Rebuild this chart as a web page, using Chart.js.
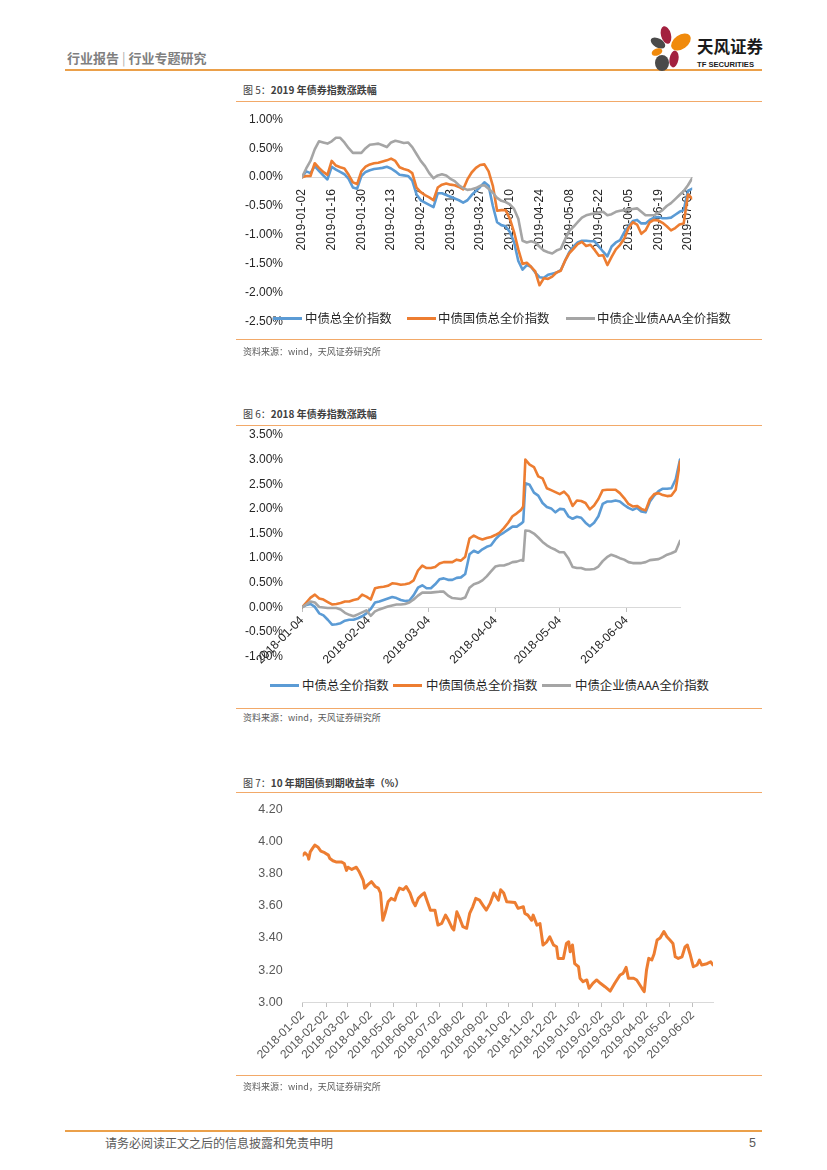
<!DOCTYPE html>
<html><head><meta charset="utf-8">
<script src="https://cdn.jsdelivr.net/npm/chart.js@4.4.1/dist/chart.umd.min.js"></script>
<style>
html,body{margin:0;padding:0;background:#fff;}
body{width:827px;height:1170px;position:relative;overflow:hidden;font-family:"Noto Sans CJK SC","Liberation Sans",sans-serif;}
.abs{position:absolute;white-space:nowrap;}
.oline{position:absolute;left:236px;width:526px;height:1px;background:#F2A969;}
canvas{position:absolute;}
.title{position:absolute;left:243px;font-size:10px;font-weight:bold;color:#404040;line-height:12px;white-space:nowrap;}
.title span{font-weight:normal;}
.src{position:absolute;left:243px;font-size:9px;color:#595959;line-height:10px;white-space:nowrap;}
.lg{position:absolute;height:3px;width:29px;}
.lt{position:absolute;font-size:12.4px;line-height:16px;color:#262626;white-space:nowrap;}
</style></head>
<body>
<!-- header -->
<div class="abs" style="left:67px;top:49px;font-size:13px;color:#7f7f7f;font-weight:bold;line-height:18px;">行业报告<span style="font-weight:normal;color:#aaa;margin:0 3px;">|</span>行业专题研究</div>
<div class="abs" style="left:65px;top:69px;width:697px;height:2px;background:#EBA04A;"></div>
<svg class="abs" style="left:640px;top:22px;" width="125" height="52" viewBox="0 0 125 52">
  <ellipse cx="26" cy="13" rx="5" ry="9" fill="#A3213F" transform="rotate(-15 26 13)"/>
  <ellipse cx="41" cy="20" rx="11" ry="7" fill="#F08A0C" transform="rotate(-35 41 20)"/>
  <ellipse cx="18" cy="21" rx="8" ry="4.5" fill="#4A4A4A" transform="rotate(30 18 21)"/>
  <ellipse cx="17" cy="30" rx="5.5" ry="3.5" fill="#F08A0C" transform="rotate(-20 17 30)"/>
  <ellipse cx="22" cy="41" rx="7" ry="8" fill="#4A4A4A"/>
  <ellipse cx="34" cy="37" rx="4.5" ry="8.5" fill="#A3213F" transform="rotate(10 34 37)"/>
  <text x="57" y="31" font-family="Noto Sans CJK SC" font-weight="bold" font-size="16.5" fill="#1a1a1a">天风证券</text>
  <text x="57" y="45" font-family="Liberation Sans" font-weight="bold" font-size="7.6" fill="#1a1a1a">TF SECURITIES</text>
</svg>

<!-- chart 5 frame -->
<div class="title" style="top:84px;"><span>图 5：</span>2019 年债券指数涨跌幅</div>
<div class="oline" style="top:101px;"></div>
<canvas id="c5" width="500" height="222" style="left:237px;top:108px;"></canvas>
<div class="lg" style="left:273px;top:317px;background:#5B9BD5;"></div><div class="lt" style="left:305px;top:310px;">中债总全价指数</div>
<div class="lg" style="left:407px;top:317px;background:#ED7D31;"></div><div class="lt" style="left:438px;top:310px;">中债国债总全价指数</div>
<div class="lg" style="left:566px;top:317px;background:#A5A5A5;"></div><div class="lt" style="left:597px;top:310px;">中债企业债AAA全价指数</div>
<div class="oline" style="top:339px;"></div>
<div class="src" style="top:347px;">资料来源：wind，天风证券研究所</div>

<!-- chart 6 frame -->
<div class="title" style="top:408px;"><span>图 6：</span>2018 年债券指数涨跌幅</div>
<div class="oline" style="top:425px;"></div>
<canvas id="c6" width="500" height="250" style="left:237px;top:420px;"></canvas>
<div class="lg" style="left:270px;top:684px;background:#5B9BD5;"></div><div class="lt" style="left:302px;top:677px;">中债总全价指数</div>
<div class="lg" style="left:393px;top:684px;background:#ED7D31;"></div><div class="lt" style="left:426px;top:677px;">中债国债总全价指数</div>
<div class="lg" style="left:542px;top:684px;background:#A5A5A5;"></div><div class="lt" style="left:575px;top:677px;">中债企业债AAA全价指数</div>
<div class="oline" style="top:708px;"></div>
<div class="src" style="top:713px;">资料来源：wind，天风证券研究所</div>

<!-- chart 7 frame -->
<div class="title" style="top:777px;"><span>图 7：</span>10 年期国债到期收益率（%）</div>
<div class="oline" style="top:792px;"></div>
<canvas id="c7" width="500" height="280" style="left:237px;top:800px;"></canvas>
<div class="oline" style="top:1075px;"></div>
<div class="src" style="top:1082px;">资料来源：wind，天风证券研究所</div>

<!-- footer -->
<div class="abs" style="left:65px;top:1130px;width:697px;height:2px;background:#EBA04A;"></div>
<div class="abs" style="left:105px;top:1135px;font-size:12px;color:#595959;line-height:16px;">请务必阅读正文之后的信息披露和免责申明</div>
<div class="abs" style="left:749px;top:1135px;font-size:12.5px;color:#595959;line-height:16px;font-family:'Liberation Sans';">5</div>

<script>
// ---------- Chart 5: 2019 bond index change (%) ----------
const days2019 = ['01-02','01-04','01-06','01-08','01-10','01-12','01-14','01-16','01-18','01-20','01-22','01-24','01-26','01-28','01-30',
 '02-01','02-03','02-05','02-07','02-09','02-11','02-13','02-15','02-17','02-19','02-21','02-23','02-25','02-27',
 '03-01','03-03','03-05','03-07','03-09','03-11','03-13','03-15','03-17','03-19','03-21','03-23','03-25','03-27','03-29','03-31',
 '04-02','04-04','04-06','04-08','04-10','04-12','04-14','04-16','04-18','04-20','04-22','04-24','04-26','04-28','04-30',
 '05-02','05-04','05-06','05-08','05-10','05-12','05-14','05-16','05-18','05-20','05-22','05-24','05-26','05-28','05-30',
 '06-01','06-03','06-05','06-07','06-09','06-11','06-13','06-15','06-17','06-19','06-21','06-23','06-25','06-27','06-29',
 '07-01','07-03','07-05'];
const total2019 = [0,0.10,0.07,0.19,0.11,0.03,-0.04,0.18,0.13,0.09,
 0.05,-0.03,-0.18,-0.20,0.02,0.09,0.12,0.14,0.15,0.16,
 0.18,0.15,0.10,0.04,0.03,0.02,-0.06,-0.30,-0.40,-0.44,
 -0.48,-0.52,-0.28,-0.28,-0.31,-0.34,-0.37,-0.40,-0.44,-0.40,
 -0.31,-0.24,-0.17,-0.09,-0.15,-0.50,-0.78,-0.83,-0.85,-0.95,
 -1.12,-1.45,-1.60,-1.52,-1.55,-1.65,-1.73,-1.74,-1.69,-1.67,
 -1.65,-1.61,-1.45,-1.30,-1.20,-1.13,-1.10,-1.10,-1.11,-1.11,
 -1.20,-1.29,-1.37,-1.20,-1.13,-1.09,-0.95,-0.85,-0.76,-0.74,
 -0.80,-0.80,-0.74,-0.70,-0.69,-0.71,-0.71,-0.70,-0.65,-0.60,
 -0.57,-0.24,-0.20];
const gov2019 = [0,0.02,0.02,0.24,0.16,0.09,0.04,0.28,0.20,0.17,
 0.15,0.04,-0.09,-0.12,0.10,0.18,0.22,0.24,0.25,0.27,
 0.29,0.32,0.28,0.17,0.14,0.12,0.07,-0.18,-0.26,-0.31,
 -0.35,-0.40,-0.18,-0.13,-0.11,-0.13,-0.14,-0.17,-0.21,-0.04,
 0.08,0.16,0.21,0.22,0.10,-0.15,-0.58,-0.57,-0.57,-0.72,
 -0.95,-1.25,-1.50,-1.48,-1.55,-1.63,-1.87,-1.75,-1.76,-1.72,
 -1.65,-1.62,-1.45,-1.32,-1.24,-1.16,-1.12,-1.19,-1.17,-1.26,
 -1.36,-1.35,-1.52,-1.38,-1.25,-1.17,-1.06,-0.88,-0.78,-0.82,
 -0.98,-0.92,-0.78,-0.74,-0.75,-0.79,-0.85,-0.92,-0.88,-0.82,
 -0.80,-0.30,-0.37];
const aaa2019 = [0,0.15,0.28,0.48,0.62,0.60,0.58,0.62,0.68,0.68,
 0.60,0.50,0.42,0.42,0.42,0.50,0.56,0.57,0.58,0.55,
 0.52,0.60,0.63,0.61,0.59,0.60,0.52,0.40,0.28,0.19,
 0.07,-0.02,0.03,0.05,0.03,-0.03,-0.07,-0.14,-0.19,-0.22,
 -0.21,-0.19,-0.15,-0.14,-0.20,-0.27,-0.36,-0.41,-0.43,-0.47,
 -0.55,-0.72,-1.10,-1.13,-1.11,-1.13,-1.20,-1.27,-1.30,-1.32,
 -1.27,-1.24,-1.08,-0.93,-0.86,-0.78,-0.70,-0.66,-0.64,-0.63,
 -0.61,-0.60,-0.66,-0.64,-0.60,-0.58,-0.57,-0.56,-0.55,-0.54,
 -0.60,-0.66,-0.66,-0.66,-0.62,-0.57,-0.50,-0.45,-0.38,-0.31,
 -0.24,-0.14,-0.02];
const ticks2019 = ['01-02','01-16','01-30','02-13','02-27','03-13','03-27','04-10','04-24','05-08','05-22','06-05','06-19','07-03'];

// ---------- Chart 6: 2018 bond index change (%) ----------
const days2018 = ['01-04','01-06','01-08','01-10','01-12','01-14','01-16','01-18','01-20','01-22','01-24','01-26','01-28','01-30',
 '02-01','02-03','02-05','02-07','02-09','02-11','02-13','02-15','02-17','02-19','02-21','02-23','02-25','02-27',
 '03-01','03-03','03-05','03-07','03-09','03-11','03-13','03-15','03-17','03-19','03-21','03-23','03-25','03-27','03-29','03-31',
 '04-02','04-04','04-06','04-08','04-10','04-12','04-14','04-16','04-17','04-18','04-20','04-22','04-24','04-26','04-28','04-30',
 '05-02','05-04','05-06','05-08','05-10','05-12','05-14','05-16','05-18','05-20','05-22','05-24','05-26','05-28','05-30',
 '06-01','06-03','06-05','06-07','06-09','06-11','06-13','06-15','06-17','06-19','06-21','06-23','06-25','06-27','06-29'];
const total2018 = [0,0.05,0.07,0.01,-0.12,-0.16,-0.25,-0.35,-0.34,-0.32,
 -0.27,-0.25,-0.25,-0.22,-0.18,-0.12,-0.03,0.10,0.12,0.15,
 0.18,0.21,0.19,0.15,0.13,0.14,0.25,0.40,0.45,0.39,
 0.39,0.47,0.57,0.59,0.56,0.56,0.60,0.61,0.68,1.08,
 1.15,1.11,1.18,1.23,1.26,1.38,1.47,1.52,1.58,1.64,
 1.64,1.70,1.74,
 2.52,2.49,2.33,2.27,2.12,2.04,2.01,1.93,2.00,1.99,
 1.85,1.80,1.84,1.82,1.72,1.65,1.72,1.85,2.10,2.15,
 2.15,2.17,2.15,2.08,2.02,1.98,2.02,1.95,1.93,2.15,
 2.27,2.36,2.41,2.41,2.42,2.60,3.00];
const gov2018 = [0,0.10,0.20,0.26,0.18,0.16,0.11,0.06,0.07,0.09,
 0.12,0.12,0.15,0.17,0.26,0.22,0.16,0.39,0.41,0.42,
 0.44,0.49,0.48,0.46,0.47,0.49,0.55,0.75,0.85,0.80,
 0.80,0.82,0.89,0.92,0.92,0.92,0.97,0.95,1.03,1.40,
 1.46,1.41,1.38,1.41,1.43,1.47,1.52,1.61,1.72,1.85,
 1.91,1.98,2.05,
 3.00,2.90,2.85,2.66,2.62,2.42,2.38,2.34,2.30,2.35,
 2.26,2.06,2.17,2.16,2.12,1.99,2.07,2.20,2.38,2.39,
 2.39,2.39,2.32,2.22,2.10,2.05,2.06,2.00,1.97,2.20,
 2.30,2.32,2.28,2.26,2.27,2.39,2.96];
const aaa2018 = [0,0.06,0.12,0.10,0.01,0,-0.01,-0.01,-0.01,-0.04,
 -0.11,-0.15,-0.18,-0.14,-0.10,-0.06,-0.17,-0.08,-0.04,-0.01,
 0.02,0.04,0.06,0.06,0.07,0.10,0.16,0.24,0.30,0.30,
 0.30,0.31,0.32,0.32,0.24,0.19,0.18,0.17,0.20,0.40,
 0.47,0.50,0.55,0.63,0.73,0.83,0.85,0.85,0.88,0.92,
 0.93,0.96,0.95,
 1.56,1.55,1.50,1.42,1.33,1.26,1.21,1.17,1.12,1.12,
 1.00,0.82,0.80,0.80,0.77,0.77,0.78,0.83,0.94,1.02,
 1.07,1.04,1.00,0.97,0.92,0.90,0.90,0.90,0.92,0.96,
 0.97,0.98,1.02,1.07,1.10,1.14,1.35];
const ticks2018 = ['01-04','02-04','03-04','04-04','05-04','06-04'];

// ---------- Chart 7: 10Y government bond yield (%) ----------
const yieldDates = ['2018-01-02','2018-01-05','2018-01-09','2018-01-10','2018-01-12','2018-01-15','2018-01-18','2018-01-22','2018-01-26','2018-01-31',
 '2018-02-05','2018-02-07','2018-02-11','2018-02-15','2018-02-22','2018-02-26','2018-03-01','2018-03-03','2018-03-08','2018-03-14',
 '2018-03-18','2018-03-23','2018-03-25','2018-03-29','2018-04-03','2018-04-08','2018-04-12','2018-04-15','2018-04-18','2018-04-21',
 '2018-04-25','2018-04-29','2018-05-04','2018-05-06','2018-05-10','2018-05-15','2018-05-19','2018-05-24','2018-05-28','2018-05-31',
 '2018-06-04','2018-06-08','2018-06-12','2018-06-16','2018-06-20','2018-06-26','2018-06-30','2018-07-05','2018-07-10','2018-07-14',
 '2018-07-19','2018-07-21','2018-07-25','2018-07-29','2018-08-02','2018-08-07','2018-08-11','2018-08-15','2018-08-19','2018-08-24',
 '2018-08-29','2018-09-02','2018-09-07','2018-09-12','2018-09-18','2018-09-21','2018-09-25','2018-09-29','2018-10-10','2018-10-14',
 '2018-10-21','2018-10-23','2018-10-27','2018-11-01','2018-11-03','2018-11-08','2018-11-12','2018-11-16','2018-11-21','2018-11-25',
 '2018-11-30','2018-12-04','2018-12-06','2018-12-13','2018-12-17','2018-12-20','2018-12-22','2018-12-25','2018-12-28','2019-01-02',
 '2019-01-04','2019-01-08','2019-01-13','2019-01-16','2019-01-21','2019-01-26','2019-01-31','2019-02-06','2019-02-13','2019-02-19',
 '2019-02-26','2019-03-02','2019-03-06','2019-03-09','2019-03-16','2019-03-20','2019-03-27','2019-03-30','2019-04-02','2019-04-05',
 '2019-04-09','2019-04-12','2019-04-16','2019-04-20','2019-04-25','2019-04-29','2019-05-03','2019-05-07','2019-05-10','2019-05-14',
 '2019-05-19','2019-05-23','2019-05-26','2019-05-30','2019-06-03','2019-06-08','2019-06-11','2019-06-14','2019-06-21','2019-06-26',
 '2019-06-29'];
const yield10y = [3.915,3.93,3.91,3.89,3.935,3.957,3.977,3.966,3.94,3.93,
 3.915,3.894,3.88,3.873,3.873,3.863,3.82,3.84,3.826,3.84,
 3.81,3.76,3.71,3.73,3.75,3.72,3.71,3.68,3.51,3.553,
 3.625,3.646,3.635,3.666,3.71,3.70,3.72,3.68,3.625,3.60,
 3.646,3.666,3.68,3.625,3.573,3.573,3.48,3.49,3.542,3.51,
 3.46,3.45,3.563,3.52,3.47,3.46,3.553,3.594,3.646,3.635,
 3.60,3.573,3.615,3.68,3.635,3.70,3.68,3.625,3.62,3.584,
 3.594,3.553,3.542,3.51,3.542,3.48,3.49,3.356,3.376,3.407,
 3.356,3.345,3.273,3.273,3.366,3.376,3.314,3.356,3.24,3.221,
 3.15,3.128,3.139,3.087,3.118,3.139,3.118,3.097,3.07,3.118,
 3.17,3.18,3.217,3.15,3.15,3.139,3.087,3.066,3.20,3.273,
 3.263,3.30,3.387,3.40,3.44,3.407,3.387,3.366,3.283,3.273,
 3.283,3.345,3.356,3.294,3.221,3.232,3.263,3.232,3.24,3.252,
 3.232];
const yieldTicks = ['2018-01-02','2018-02-02','2018-03-02','2018-04-02','2018-05-02','2018-06-02','2018-07-02','2018-08-02','2018-09-02',
 '2018-10-02','2018-11-02','2018-12-02','2019-01-02','2019-02-02','2019-03-02','2019-04-02','2019-05-02','2019-06-02'];

// ---------- helpers ----------
const DAY = 86400000;
const dayNum = s => Date.parse(s + 'T00:00:00Z') / DAY;
const fmtDay = n => new Date(Math.round(n) * DAY).toISOString().slice(0, 10);
const pts = (dates, vals) => dates.map((d, i) => ({x: dayNum(d), y: vals[i]}));
const full = (y, arr) => arr.map(s => y + '-' + s);

const BLUE = '#5B9BD5', ORANGE = '#ED7D31', GRAY = '#A5A5A5';
const FONT = {family: 'Liberation Sans', size: 12};

function lineDs(data, color, order, w) {
  return {data, borderColor: color, backgroundColor: color, borderWidth: w, pointRadius: 0,
          tension: 0, borderJoinStyle: 'round', borderCapStyle: 'round', fill: false, order};
}
function baseOpts(padding) {
  return {responsive: false, animation: false, events: [],
          layout: {padding},
          plugins: {legend: {display: false}, tooltip: {enabled: false}}};
}
// fix the y-axis width and stop its label padding from shrinking the plot
const yFit = w => s => { s.width = w; s.paddingTop = 0; s.paddingBottom = 0; };

// Chart 5
(function(){
  const d = full('2019', days2019);
  const t = full('2019', ticks2019).map(dayNum);
  const o = baseOpts({left: 0, top: 11.3, right: 44.8, bottom: 8.3});
  o.scales = {
    x: {type: 'linear', min: dayNum(d[0]), max: dayNum(d[d.length - 1]), position: {y: 0},
        afterBuildTicks: s => { s.ticks = t.map(v => ({value: v})); },
        grid: {display: false}, border: {display: true, color: '#D9D9D9', width: 1},
        ticks: {autoSkip: false, minRotation: 90, maxRotation: 90, padding: 4, color: '#262626', font: FONT,
                callback: v => fmtDay(v)}},
    y: {min: -2.5, max: 1.0, afterFit: yFit(65),
        grid: {display: false}, border: {display: false},
        ticks: {stepSize: 0.5, padding: 11, color: '#262626', font: FONT, callback: v => v.toFixed(2) + '%'}}
  };
  new Chart(document.getElementById('c5'), {type: 'line',
    data: {datasets: [lineDs(pts(d, total2019), BLUE, 3, 2.6), lineDs(pts(d, gov2019), ORANGE, 2, 2.6), lineDs(pts(d, aaa2019), GRAY, 1, 2.6)]},
    options: o});
})();

// Chart 6
(function(){
  const d = full('2018', days2018);
  const t = full('2018', ticks2018).map(dayNum);
  const o = baseOpts({left: 0, top: 15, right: 57, bottom: 13.3});
  o.scales = {
    x: {type: 'linear', min: dayNum(d[0]), max: dayNum(d[d.length - 1]), position: {y: 0},
        afterBuildTicks: s => { s.ticks = t.map(v => ({value: v})); },
        grid: {display: true, drawOnChartArea: false, drawTicks: true, tickLength: 4, color: '#BFBFBF'},
        border: {display: true, color: '#D9D9D9', width: 1},
        ticks: {autoSkip: false, minRotation: 45, maxRotation: 45, padding: 2, color: '#262626', font: FONT,
                callback: v => fmtDay(v)}},
    y: {min: -1.0, max: 3.5, afterFit: yFit(65),
        grid: {display: false}, border: {display: false},
        ticks: {stepSize: 0.5, padding: 11, color: '#262626', font: FONT, callback: v => v.toFixed(2) + '%'}}
  };
  new Chart(document.getElementById('c6'), {type: 'line',
    data: {datasets: [lineDs(pts(d, total2018), BLUE, 3, 2.6), lineDs(pts(d, gov2018), ORANGE, 2, 2.6), lineDs(pts(d, aaa2018), GRAY, 1, 2.6)]},
    options: o});
})();

// Chart 7
(function(){
  const t = yieldTicks.map(dayNum);
  const o = baseOpts({left: 0, top: 9.3, right: 24, bottom: 77.7});
  o.scales = {
    x: {type: 'linear', min: dayNum(yieldDates[0]), max: dayNum(yieldDates[yieldDates.length - 1]), position: {y: 3.0},
        afterBuildTicks: s => { s.ticks = t.map(v => ({value: v})); },
        grid: {display: true, drawOnChartArea: false, drawTicks: true, tickLength: 4, color: '#BFBFBF'},
        border: {display: true, color: '#D9D9D9', width: 1},
        ticks: {autoSkip: false, minRotation: 45, maxRotation: 45, padding: 2, color: '#595959', font: FONT,
                callback: v => fmtDay(v)}},
    y: {min: 3.0, max: 4.2, afterFit: yFit(65.7),
        grid: {display: false}, border: {display: false},
        ticks: {stepSize: 0.2, padding: 12, color: '#595959', font: {family: 'Liberation Sans', size: 12.5}, callback: v => v.toFixed(2)}}
  };
  new Chart(document.getElementById('c7'), {type: 'line',
    data: {datasets: [lineDs(pts(yieldDates, yield10y), ORANGE, 1, 3)]},
    options: o});
})();
</script>
</body></html>
